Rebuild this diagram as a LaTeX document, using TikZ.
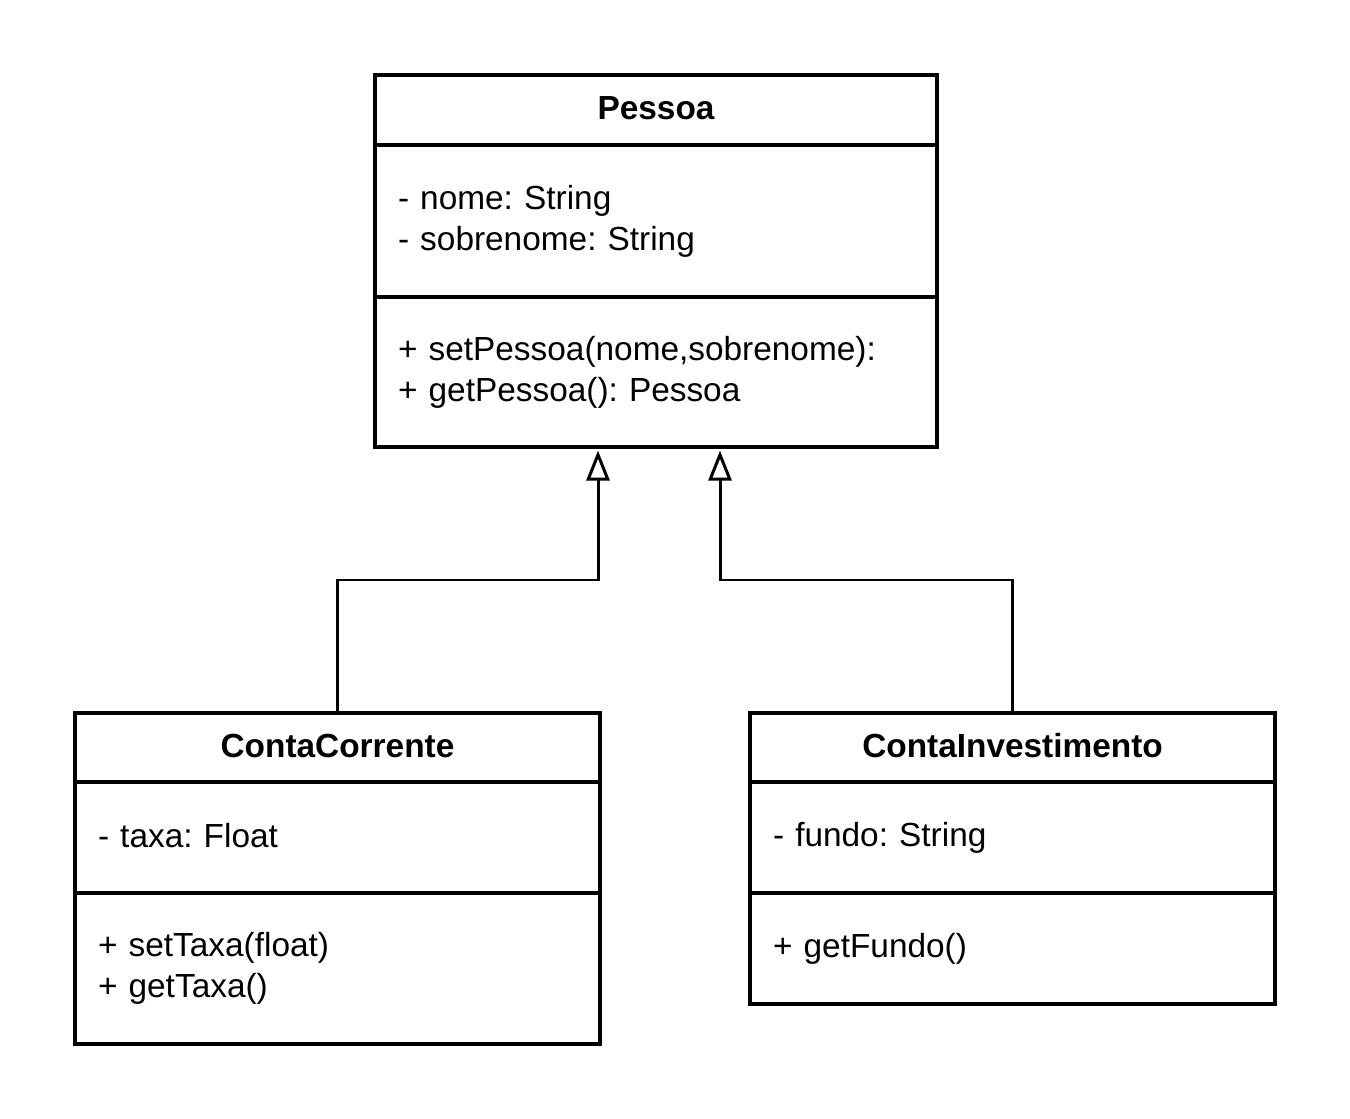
\documentclass[tikz,border=0pt]{standalone}
\usepackage{fontspec}
\setmainfont{Liberation Sans}
\usetikzlibrary{positioning,arrows.meta}
\frenchspacing

\tikzset{
  uml/.style={draw, line width=1.9pt, outer sep=0pt, inner ysep=0pt,
    font=\fontsize{19}{23.3}\selectfont},
  headbig/.style={uml, minimum width=11.24cm, minimum height=1.4cm, font=\fontsize{19}{23.3}\selectfont\bfseries},
  partbig/.style={uml, text width=10.32cm, inner xsep=0.46cm, align=left},
  headsmall/.style={uml, minimum width=10.5cm, minimum height=1.38cm, font=\fontsize{19}{23.3}\selectfont\bfseries},
  partsmall/.style={uml, text width=9.58cm, inner xsep=0.46cm, align=left},
  inherit/.style={line width=1.7pt, shorten >=2pt,
    -{Triangle[open, length=0.6cm, width=0.46cm, line width=1.7pt]}}
}

\begin{document}
\begin{tikzpicture}
  \useasboundingbox (0,0) rectangle (27,-22.38);

  %%%%% Pessoa %%%%%
  \node[headbig] (pessoahead) at (13.12,-2.2) {\raisebox{0.08cm}{Pessoa}};
  \node[partbig, minimum height=3.04cm, below=0pt of pessoahead] (pessoaattr)
    {\raisebox{0.12cm}{\parbox{10.32cm}{- nome: String\\- sobrenome: String}}};
  \node[partbig, minimum height=3.0cm, below=0pt of pessoaattr] (pessoameth)
    {\raisebox{0.1cm}{\parbox{10.32cm}{+ setPessoa(nome,sobrenome):\\+ getPessoa(): Pessoa}}};

  %%%%% ContaCorrente %%%%%
  \node[headsmall] (cchead) at (6.75,-14.95) {\raisebox{0.08cm}{ContaCorrente}};
  \node[partsmall, minimum height=2.22cm, below=0pt of cchead] (ccattr)
    {\raisebox{0.07cm}{- taxa: Float}};
  \node[partsmall, minimum height=3.02cm, below=0pt of ccattr] (ccmeth)
    {\raisebox{0.1cm}{\parbox{9.58cm}{+ setTaxa(float)\\+ getTaxa()}}};

  %%%%% ContaInvestimento %%%%%
  \node[headsmall] (cihead) at (20.25,-14.95) {\raisebox{0.08cm}{ContaInvestimento}};
  \node[partsmall, minimum height=2.22cm, below=0pt of cihead] (ciattr)
    {\raisebox{0.05cm}{- fundo: String}};
  \node[partsmall, minimum height=2.22cm, below=0pt of ciattr] (cimeth)
    {\raisebox{0.05cm}{+ getFundo()}};

  %%%%% heranca %%%%%
  \draw[inherit] (cchead.north) -- ++(0,2.66) -| ([xshift=-1.16cm]pessoameth.south);
  \draw[inherit] (cihead.north) -- ++(0,2.66) -| ([xshift=1.28cm]pessoameth.south);
\end{tikzpicture}
\end{document}
